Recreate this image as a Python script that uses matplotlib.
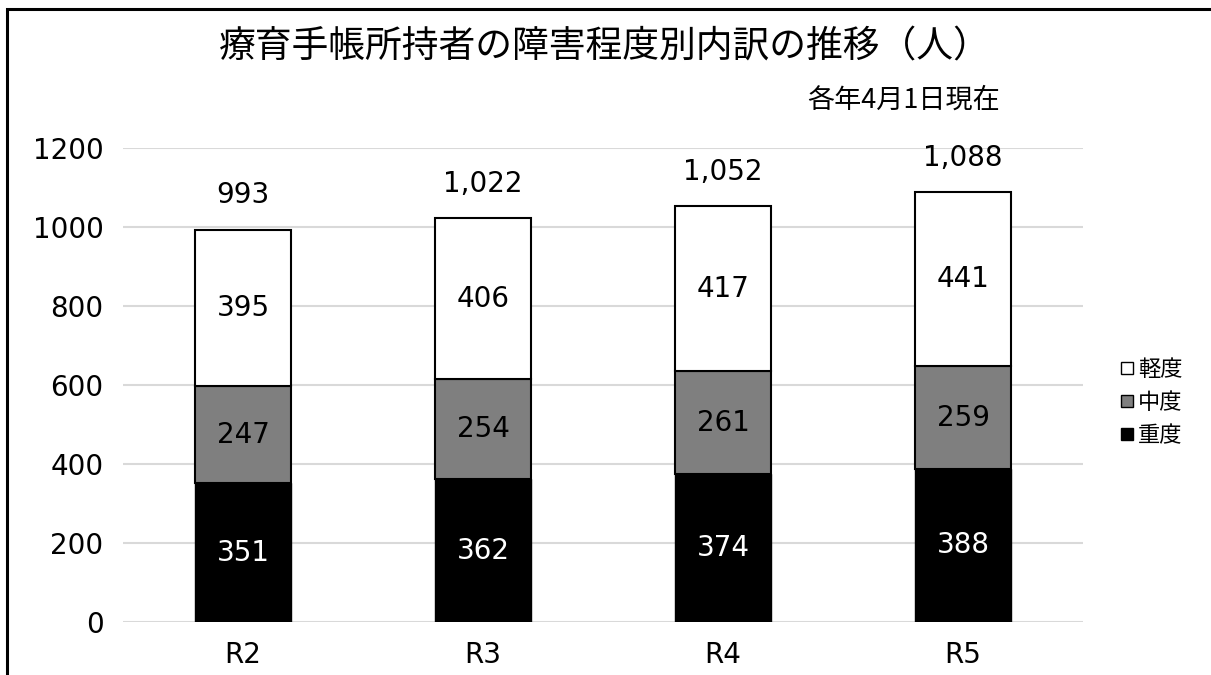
import matplotlib
matplotlib.use('Agg')
import matplotlib.pyplot as plt
from matplotlib.patches import Rectangle
from matplotlib.lines import Line2D

plt.rcParams['font.family'] = ['Noto Sans CJK JP', 'DejaVu Sans']
num_font = ['DejaVu Sans', 'Noto Sans CJK JP']

years = ['R2', 'R3', 'R4', 'R5']
severe = [351, 362, 374, 388]     # 重度
moderate = [247, 254, 261, 259]   # 中度
mild = [395, 406, 417, 441]       # 軽度
totals = [993, 1022, 1052, 1088]

fig = plt.figure(figsize=(12.11, 6.75), dpi=100)
ax = fig.add_axes([0.1016, 0.0785, 0.7927, 0.7022])

x = list(range(len(years)))
w = 0.4
ax.bar(x, severe, w, color='black', edgecolor='black', linewidth=1, zorder=3)
ax.bar(x, moderate, w, bottom=severe, color='#7f7f7f', edgecolor='black', linewidth=1.5, zorder=3)
base2 = [a + b for a, b in zip(severe, moderate)]
ax.bar(x, mild, w, bottom=base2, color='white', edgecolor='black', linewidth=1.5, zorder=3)

for i in x:
    ax.text(i, severe[i] / 2, str(severe[i]), ha='center', va='center', fontsize=20,
            color='white', family=num_font, zorder=4)
    ax.text(i, severe[i] + moderate[i] / 2, str(moderate[i]), ha='center', va='center', fontsize=20,
            color='black', family=num_font, zorder=4)
    ax.text(i, base2[i] + mild[i] / 2, str(mild[i]), ha='center', va='center', fontsize=20,
            color='black', family=num_font, zorder=4)
    ax.text(i, totals[i] + 88, f'{totals[i]:,}', ha='center', va='center', fontsize=20,
            color='black', family=num_font, zorder=4)

ax.set_xlim(-0.5, 3.5)
ax.set_ylim(0, 1200)
ax.set_yticks(range(0, 1201, 200))
ax.set_xticks(x)
ax.set_xticklabels(years)
for lab in ax.get_xticklabels() + ax.get_yticklabels():
    lab.set_family(num_font)
ax.tick_params(axis='both', length=0, labelsize=20)
ax.tick_params(axis='y', pad=14)
ax.tick_params(axis='x', pad=14)
ax.yaxis.grid(True, color='#d9d9d9', linewidth=1.5, zorder=0)
for s in ax.spines.values():
    s.set_visible(False)

fig.text(0.4996, 0.93, '療育手帳所持者の障害程度別内訳の推移（人）', ha='center', va='center', fontsize=26.5)
fig.text(0.7465, 0.851, '各年4月1日現在', ha='center', va='center', fontsize=19.5)

handles = [
    Line2D([], [], marker='s', linestyle='none', markerfacecolor='white', markeredgecolor='black', markersize=8),
    Line2D([], [], marker='s', linestyle='none', markerfacecolor='#7f7f7f', markeredgecolor='black', markersize=8),
    Line2D([], [], marker='s', linestyle='none', markerfacecolor='black', markeredgecolor='black', markersize=8),
]
fig.legend(handles, ['軽度', '中度', '重度'], loc='center left', bbox_to_anchor=(0.905, 0.404),
           frameon=False, fontsize=16, handletextpad=0.0, labelspacing=0.45, handlelength=1.0)

fig.patches.append(Rectangle((0.006, -0.1), 1.1, 1.087, transform=fig.transFigure,
                             fill=False, edgecolor='black', linewidth=2.2))

fig.savefig('out.png', dpi=100)
